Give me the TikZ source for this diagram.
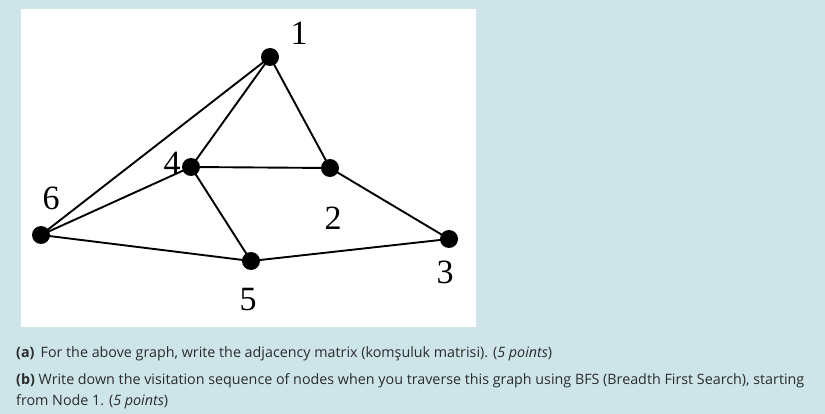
\documentclass[tikz,border=0pt]{standalone}
\usepackage{fontspec}
\setmainfont{Liberation Serif}
\newfontfamily\uifont{Open Sans}
\definecolor{pagebg}{HTML}{CDE5E9}
\definecolor{uitext}{HTML}{2B2B2B}

\begin{document}
\begin{tikzpicture}[x=1pt,y=-1pt,
			vertex/.style={
				circle,
				fill=black,
				inner sep=0pt,
				minimum size=18pt
			},
			num/.style={
				font=\fontsize{34}{34}\selectfont,
				inner sep=0pt
			},
			edge/.style={
				line width=1.9pt
			},
			question/.style={
				anchor=base west,
				inner sep=0pt,
				text=uitext,
				font=\uifont\fontsize{14.3}{20}\selectfont
			}
			]
			
			\fill[pagebg] (0,0) rectangle (825,414);
			\fill[white] (21,9) rectangle (476,327);
			\useasboundingbox (0,0) rectangle (825,414);
			
			\node (v1) [vertex] at (270,57) {};
			\node (v2) [vertex] at (330,168) {};
			\node (v3) [vertex] at (449,239) {};
			\node (v4) [vertex] at (191,167) {};
			\node (v5) [vertex] at (251,261) {};
			\node (v6) [vertex] at (41,235) {};
			
			\draw [edge] (v1.center) -- (v6.center);
			\draw [edge] (v1.center) -- (v4.center);
			\draw [edge] (v1.center) -- (v2.center);
			\draw [edge] (v4.center) -- (v2.center);
			\draw [edge] (v4.center) -- (v6.center);
			\draw [edge] (v4.center) -- (v5.center);
			\draw [edge] (v6.center) -- (v5.center);
			\draw [edge] (v5.center) -- (v3.center);
			\draw [edge] (v2.center) -- (v3.center);
			
			\node (l1) [num] at (299,33) {1};
			\node (l2) [num] at (333,218) {2};
			\node (l3) [num] at (445,272) {3};
			\node (l4) [num] at (172,163) {4};
			\node (l5) [num] at (248,300) {5};
			\node (l6) [num] at (51,198) {6};
			
			\node (qa) [question] at (16,357) {\textbf{(a)}\, For the above graph, write the adjacency matrix (komşuluk matrisi). (\textit{5 points})};
			\node (qb) [question] at (16,384) {\textbf{(b)} Write down the visitation sequence of nodes when you traverse this graph using BFS (Breadth First Search), starting};
			\node (qbrest) [question] at (16,405) {from Node 1. (\textit{5 points})};
			
		\end{tikzpicture}
\end{document}
